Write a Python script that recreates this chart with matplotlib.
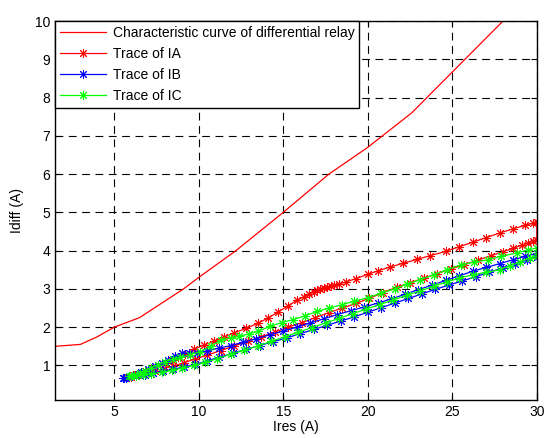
import matplotlib
matplotlib.use("Agg")
import matplotlib.pyplot as plt

plt.rcParams['font.family'] = ['Liberation Sans', 'DejaVu Sans']

# characteristic curve of the relay
char_x = [1.5, 3.0, 4.0, 5.0, 6.5, 9.1, 10.0, 12.2, 15.0, 17.7, 20.0, 22.6, 23.5, 25.75, 28.0, 30.0]
char_y = [1.5, 1.55, 1.75, 2.0, 2.25, 3.0, 3.3, 4.0, 5.0, 6.0, 6.7, 7.6, 8.0, 9.0, 10.0, 10.85]

# trace of IA (out and back)
ia_x = [5.8, 6.1, 6.4, 6.7, 7.0, 7.3, 7.6, 8.0, 8.4, 8.8, 9.2, 9.7, 10.3, 10.9, 11.5, 12.1,
        12.8, 13.5, 14.1, 14.7, 15.3, 15.8, 16.2, 16.5, 16.8, 17.0, 17.2, 17.4, 17.6, 17.8,
        18.0, 18.3, 18.7, 19.3, 20.0, 20.6, 21.3, 22.1, 22.9, 23.7, 24.6, 25.4, 26.2, 27.0,
        27.8, 28.6, 29.3, 29.8, 30.0,
        30.0, 29.8, 29.5, 29.1, 28.6, 28.0, 27.3, 26.5, 25.7, 24.9, 24.1, 23.3, 22.5, 21.7,
        20.9, 20.1, 19.3, 18.5, 17.7, 16.9, 16.1, 15.3, 14.5, 13.7, 12.9, 12.1, 11.3, 10.5,
        9.8, 9.1, 8.5, 7.9, 7.4, 6.9, 6.4, 6.0]
ia_y = [0.70, 0.74, 0.78, 0.83, 0.88, 0.94, 1.00, 1.07, 1.15, 1.22, 1.30, 1.42, 1.53, 1.63,
        1.74, 1.85, 1.97, 2.10, 2.24, 2.40, 2.56, 2.70, 2.79, 2.86, 2.92, 2.96, 3.00, 3.03,
        3.05, 3.07, 3.09, 3.13, 3.18, 3.27, 3.38, 3.47, 3.57, 3.67, 3.77, 3.87, 3.98, 4.10,
        4.22, 4.34, 4.46, 4.57, 4.66, 4.72, 4.74,
        4.28, 4.25, 4.20, 4.14, 4.06, 3.97, 3.87, 3.75, 3.63, 3.52, 3.40, 3.28, 3.16, 3.04,
        2.90, 2.76, 2.62, 2.50, 2.38, 2.25, 2.12, 2.00, 1.87, 1.75, 1.63, 1.51, 1.39, 1.27,
        1.17, 1.07, 0.98, 0.92, 0.86, 0.80, 0.75, 0.71]

# trace of IB
ib_x = [5.5, 5.7, 6.0, 6.3, 6.6, 7.0, 7.4, 7.8, 8.2, 8.6, 9.0, 9.4, 9.9, 10.5, 11.2, 11.9,
        12.6, 13.4, 14.2, 15.0, 15.8, 16.6, 17.4, 18.2, 19.0, 19.8, 20.6, 21.4, 22.2, 23.0,
        23.8, 24.6, 25.4, 26.2, 27.0, 27.8, 28.6, 29.3, 30.0,
        30.0, 29.4, 28.7, 28.0, 27.2, 26.4, 25.6, 24.8, 24.0, 23.2, 22.4, 21.6, 20.8, 20.0,
        19.2, 18.4, 17.6, 16.8, 16.0, 15.2, 14.4, 13.6, 12.8, 12.0, 11.2, 10.5, 9.8, 9.1,
        8.5, 7.9, 7.3, 6.8, 6.3, 5.9, 5.6]
ib_y = [0.66, 0.68, 0.72, 0.76, 0.82, 0.90, 0.98, 1.06, 1.14, 1.24, 1.33, 1.32, 1.33, 1.38,
        1.45, 1.52, 1.60, 1.70, 1.80, 1.90, 2.00, 2.11, 2.22, 2.33, 2.43, 2.53, 2.63, 2.74,
        2.86, 2.98, 3.10, 3.22, 3.34, 3.46, 3.56, 3.66, 3.76, 3.85, 3.93,
        3.83, 3.75, 3.65, 3.55, 3.44, 3.32, 3.21, 3.10, 2.99, 2.87, 2.75, 2.63, 2.51, 2.39,
        2.27, 2.16, 2.05, 1.94, 1.83, 1.72, 1.62, 1.52, 1.42, 1.32, 1.21, 1.12, 1.03, 0.96,
        0.90, 0.85, 0.80, 0.76, 0.72, 0.69, 0.67]

# trace of IC
ic_x = [5.9, 6.2, 6.5, 6.8, 7.2, 7.6, 8.0, 8.5, 8.9, 9.5, 10.1, 10.7, 11.3, 11.9, 12.4, 13.0,
        13.5, 14.2, 14.9, 15.6, 16.3, 17.0, 17.7, 18.5, 19.2, 20.0, 20.8, 21.6, 22.3, 23.1,
        23.9, 24.7, 25.5, 26.3, 27.1, 27.9, 28.8, 29.5, 30.0,
        30.0, 29.6, 29.0, 28.4, 27.8, 27.0, 26.2, 25.4, 24.7, 23.9, 23.1, 22.3, 21.5, 20.7,
        19.9, 19.1, 18.3, 17.5, 16.7, 15.9, 15.1, 14.3, 13.5, 12.7, 11.9, 11.1, 10.4, 9.7,
        9.0, 8.4, 7.8, 7.2, 6.7, 6.3, 6.0]
ic_y = [0.72, 0.76, 0.80, 0.86, 0.94, 1.02, 1.10, 1.17, 1.21, 1.28, 1.36, 1.50, 1.66, 1.72,
        1.76, 1.83, 1.89, 2.02, 2.12, 2.20, 2.30, 2.41, 2.50, 2.59, 2.68, 2.77, 2.89, 3.00,
        3.12, 3.24, 3.37, 3.50, 3.63, 3.70, 3.76, 3.85, 3.94, 4.02, 4.07,
        3.85, 3.81, 3.70, 3.60, 3.50, 3.43, 3.37, 3.28, 3.19, 3.07, 2.95, 2.83, 2.71, 2.59,
        2.47, 2.35, 2.23, 2.11, 1.99, 1.87, 1.75, 1.63, 1.51, 1.40, 1.29, 1.18, 1.08, 1.00,
        0.93, 0.87, 0.82, 0.78, 0.75, 0.73, 0.72]

xticks = [5, 10, 15, 20, 25, 30]
yticks = [1, 2, 3, 4, 5, 6, 7, 8, 9, 10]

fig = plt.figure(figsize=(5.45, 4.38), dpi=100)
ax = fig.add_axes([0.101, 0.087, 0.884, 0.865])

star = (8, 2, 0)
ax.plot(char_x, char_y, color='red', lw=0.9, label='Characteristic curve of differential relay')
ax.plot(ia_x, ia_y, color='red', lw=0.9, marker=star, ms=6.5, mew=0.7, label='Trace of IA')
ax.plot(ib_x, ib_y, color='blue', lw=0.9, marker=star, ms=6.5, mew=0.7, label='Trace of IB')
ax.plot(ic_x, ic_y, color='#00ff00', lw=0.9, marker=star, ms=6.5, mew=0.7, label='Trace of IC')

ax.set_xlim(1.5, 30)
ax.set_ylim(0.1, 10)
ax.set_xticks(xticks)
ax.set_yticks(yticks)
ax.grid(True, color='black', linestyle=(0, (7, 5)), linewidth=0.8)
ax.tick_params(direction='in', labelsize=10, length=4, top=True, right=True)
for s in ax.spines.values():
    s.set_linewidth(1.0)

ax.set_xlabel('Ires (A)', fontsize=10, labelpad=1)
ax.set_ylabel('Idiff (A)', fontsize=10, labelpad=8)

leg = ax.legend(loc='upper left', fontsize=10, fancybox=False, framealpha=1,
                edgecolor='black', borderaxespad=0, labelspacing=0.5, handlelength=3.3,
                borderpad=0.35, handletextpad=0.5)
leg.get_frame().set_linewidth(1.0)

fig.savefig('out.png', dpi=100)
